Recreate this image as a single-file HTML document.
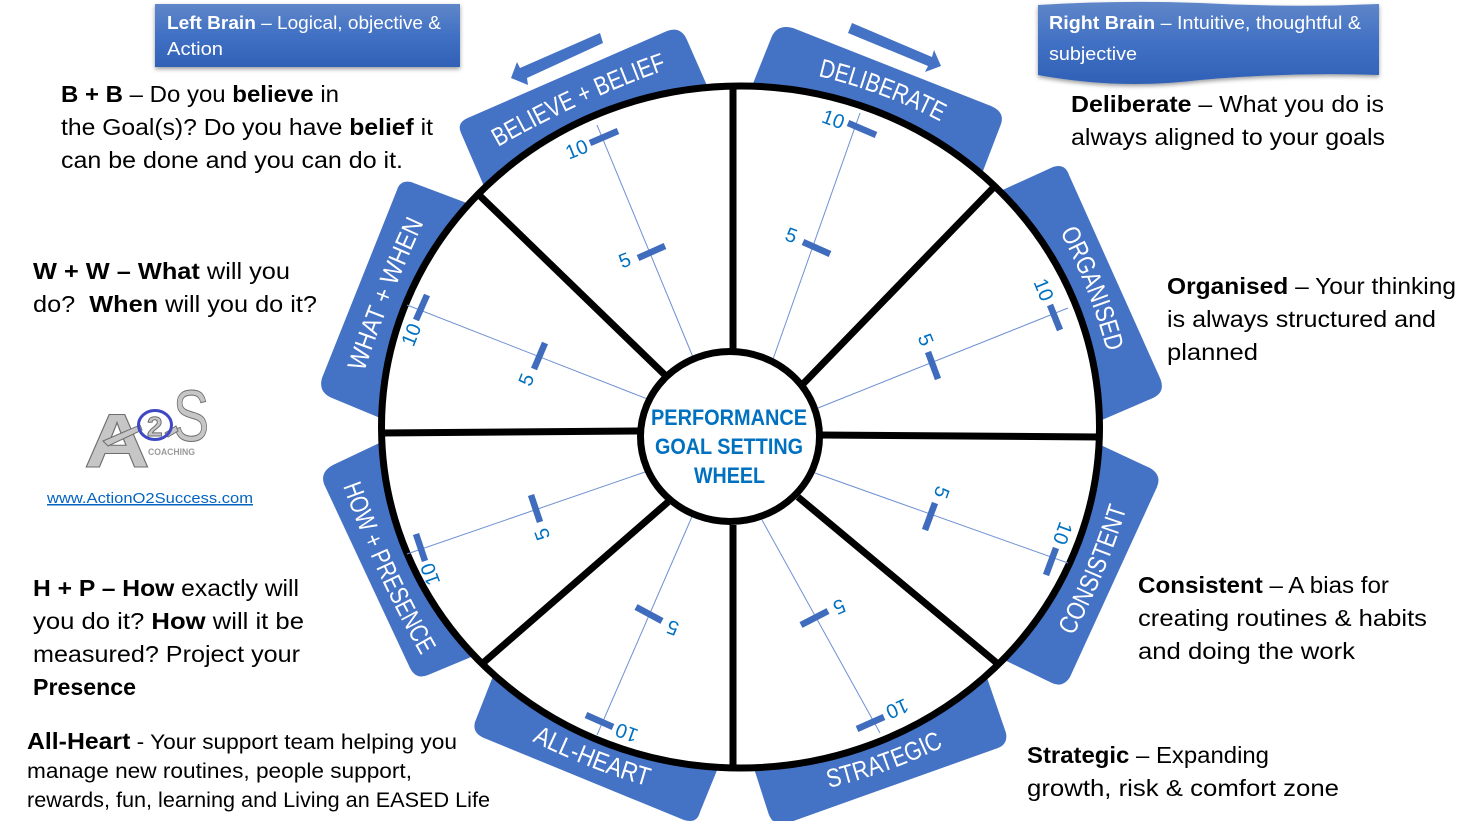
<!DOCTYPE html>
<html><head><meta charset="utf-8"><style>
html,body{margin:0;padding:0;background:#fff;width:1467px;height:821px;overflow:hidden}
svg{display:block;font-family:"Liberation Sans",sans-serif}
.b{font-size:23.5px;fill:#000}.s{font-size:21.5px;fill:#000}
.h{font-size:18.5px;fill:#fff}
.t{font-size:26px;fill:#fff}
.n{font-size:20px;fill:#0070c0}
.c{font-size:22.5px;fill:#0070c0;font-weight:bold}
.w{font-weight:bold}
</style></head><body>
<svg width="1467" height="821" viewBox="0 0 1467 821" xmlns="http://www.w3.org/2000/svg">
<defs>
<linearGradient id="g" x1="0" y1="0" x2="0" y2="1"><stop offset="0" stop-color="#5f86c8"/><stop offset=".5" stop-color="#4170c4"/><stop offset="1" stop-color="#2f61b6"/></linearGradient>
<filter id="sh" x="-5%" y="-10%" width="110%" height="125%"><feDropShadow dx="0" dy="2" stdDeviation="2" flood-color="#000" flood-opacity=".4"/></filter>
<path id="p1" d="M498,147 Q580,100 668,69"/>
<path id="p2" d="M818,76 Q885,92 945,124"/>
<path id="p3" d="M1060,232 Q1090,288 1107,352"/>
<path id="p4" d="M1073,636 Q1106,575 1127,507"/>
<path id="p5" d="M829,788 Q890,773 945,746"/>
<path id="p6" d="M532,741 Q590,770 647,786"/>
<path id="p7" d="M343,486 Q375,575 421,655"/>
<path id="p8" d="M364,372 Q390,295 424,222"/>
</defs>

<!-- tabs -->
<g fill="#4472c4">
<path d="M490,200 L461,133 Q456,122 470,117 L667,31 Q681,26 687,40 L712,97 Z"/>
<path d="M748,96 L772,36 Q778,24 793,28 L991,106 Q1005,112 1001,124 L978,184 Z"/>
<path d="M985,198 L1053,167 Q1065,163 1069,175 L1160,378 Q1166,392 1153,398 L1088,426 Z"/>
<path d="M1090,440 L1150,468 Q1162,475 1157,487 L1070,677 Q1063,688 1052,683 L992,654 Z"/>
<path d="M983,666 L1006,733 Q1008,744 998,748 L785,824 Q772,826 768,812 L750,756 Z"/>
<path d="M497,666 L475,722 Q472,733 484,738 L684,820 Q697,824 700,812 L722,758 Z"/>
<path d="M390,438 L333,465 Q320,472 324,484 L410,668 Q416,680 428,675 L488,650 Z"/>
<path d="M480,208 L411,182 Q400,180 397,190 L322,378 Q318,392 332,398 L390,422 Z"/>
<polygon points="600,33 603,43 527,78 528,85 511,78 517,62 520,68"/>
<polygon points="848,33 852,23 932,57 934,50 941,66 925,72 928,66"/>
</g>

<!-- wheel -->
<ellipse cx="740.5" cy="427" rx="359" ry="341" fill="#fff" stroke="#000" stroke-width="7"/>

<!-- thin lines -->
<g stroke="#6f90d2" stroke-width="1" fill="none">
<line x1="695" y1="362" x2="597" y2="125"/>
<line x1="772" y1="362" x2="860" y2="113"/>
<line x1="818" y1="408" x2="1068" y2="308"/>
<line x1="815" y1="473" x2="1068" y2="563"/>
<line x1="762" y1="520" x2="880" y2="733"/>
<line x1="694" y1="512" x2="597" y2="735"/>
<line x1="645" y1="472" x2="407" y2="554"/>
<line x1="650" y1="400" x2="407" y2="305"/>
</g>
<!-- ticks -->
<g stroke="#3f6cbc" stroke-width="6.5" fill="none">
<line x1="590" y1="143" x2="618" y2="131"/><line x1="638" y1="258" x2="665" y2="246"/>
<line x1="848" y1="123" x2="876" y2="135"/><line x1="803" y1="242" x2="830" y2="254"/>
<line x1="1050" y1="305" x2="1060" y2="330"/><line x1="928" y1="352" x2="938" y2="379"/>
<line x1="1056" y1="548" x2="1046" y2="575"/><line x1="935" y1="503" x2="925" y2="530"/>
<line x1="857" y1="729" x2="884" y2="717"/><line x1="801" y1="625" x2="828" y2="611"/>
<line x1="586" y1="715" x2="613" y2="727"/><line x1="636" y1="607" x2="662" y2="621"/>
<line x1="416" y1="534" x2="425" y2="561"/><line x1="531" y1="495" x2="540" y2="522"/>
<line x1="427" y1="295" x2="416" y2="320"/><line x1="545" y1="343" x2="534" y2="369"/>
</g>
<!-- spokes -->
<g stroke="#000" stroke-width="7" fill="none">
<line x1="733" y1="86" x2="733" y2="352"/><line x1="733" y1="525" x2="733" y2="767"/>
<line x1="380" y1="433" x2="640" y2="431"/><line x1="820" y1="435" x2="1100" y2="437"/>
<line x1="478" y1="194" x2="668" y2="378"/><line x1="995" y1="186" x2="802" y2="385"/>
<line x1="483" y1="663" x2="668" y2="502"/><line x1="998" y1="664" x2="798" y2="497"/>
</g>
<ellipse cx="730" cy="436.5" rx="89.5" ry="85" fill="#fff" stroke="#000" stroke-width="7"/>

<!-- hub text -->
<text class="c" x="651" y="425" textLength="156" lengthAdjust="spacingAndGlyphs">PERFORMANCE</text>
<text class="c" x="655" y="454" textLength="148" lengthAdjust="spacingAndGlyphs">GOAL SETTING</text>
<text class="c" x="694" y="483" textLength="71" lengthAdjust="spacingAndGlyphs">WHEEL</text>

<!-- numbers -->
<g class="n" text-anchor="middle" dominant-baseline="central">
<text transform="translate(577,150) rotate(-22)">10</text><text transform="translate(625,261) rotate(-22)">5</text>
<text transform="translate(833,120) rotate(20)">10</text><text transform="translate(791,236) rotate(20)">5</text>
<text transform="translate(1043,290) rotate(68)">10</text><text transform="translate(925,340) rotate(68)">5</text>
<text transform="translate(1062,533) rotate(110)">10</text><text transform="translate(941,492) rotate(110)">5</text>
<text transform="translate(897,708) rotate(156)">10</text><text transform="translate(839,606) rotate(156)">5</text>
<text transform="translate(627,732) rotate(200)">10</text><text transform="translate(673,627) rotate(200)">5</text>
<text transform="translate(431,574) rotate(250)">10</text><text transform="translate(543,534) rotate(250)">5</text>
<text transform="translate(412,335) rotate(-68)">10</text><text transform="translate(527,380) rotate(-68)">5</text>
</g>

<!-- tab labels -->
<g class="t">
<text><textPath href="#p1" textLength="186" lengthAdjust="spacingAndGlyphs">BELIEVE + BELIEF</textPath></text>
<text><textPath href="#p2" textLength="131" lengthAdjust="spacingAndGlyphs">DELIBERATE</textPath></text>
<text><textPath href="#p3" textLength="129" lengthAdjust="spacingAndGlyphs">ORGANISED</textPath></text>
<text><textPath href="#p4" textLength="139" lengthAdjust="spacingAndGlyphs">CONSISTENT</textPath></text>
<text><textPath href="#p5" textLength="122" lengthAdjust="spacingAndGlyphs">STRATEGIC</textPath></text>
<text><textPath href="#p6" textLength="124" lengthAdjust="spacingAndGlyphs">ALL-HEART</textPath></text>
<text><textPath href="#p7" textLength="187" lengthAdjust="spacingAndGlyphs">HOW + PRESENCE</textPath></text>
<text><textPath href="#p8" textLength="161" lengthAdjust="spacingAndGlyphs">WHAT + WHEN</textPath></text>
</g>

<!-- headers -->
<rect x="155" y="4" width="305" height="63" fill="url(#g)" filter="url(#sh)"/>
<text class="h" x="167" y="29" textLength="274" lengthAdjust="spacingAndGlyphs"><tspan class="w">Left Brain</tspan> – Logical, objective &amp;</text>
<text class="h" x="167" y="55" textLength="56" lengthAdjust="spacingAndGlyphs">Action</text>
<path d="M1038,5 Q1120,0 1200,3 Q1290,8 1379,4 L1379,75 Q1290,72 1200,80 Q1120,90 1038,75 Z" fill="url(#g)" filter="url(#sh)"/>
<text class="h" x="1049" y="29" textLength="312" lengthAdjust="spacingAndGlyphs"><tspan class="w">Right Brain</tspan> – Intuitive, thoughtful &amp;</text>
<text class="h" x="1049" y="60" textLength="88" lengthAdjust="spacingAndGlyphs">subjective</text>

<!-- left copy -->
<text class="b" x="61" y="102" textLength="278" lengthAdjust="spacingAndGlyphs"><tspan class="w">B + B</tspan> – Do you <tspan class="w">believe</tspan> in</text>
<text class="b" x="61" y="135" textLength="372" lengthAdjust="spacingAndGlyphs">the Goal(s)? Do you have <tspan class="w">belief</tspan> it</text>
<text class="b" x="61" y="168" textLength="342" lengthAdjust="spacingAndGlyphs">can be done and you can do it.</text>
<text class="b" x="33" y="279" textLength="257" lengthAdjust="spacingAndGlyphs"><tspan class="w">W + W – What</tspan> will you</text>
<text class="b" x="33" y="312" textLength="284" lengthAdjust="spacingAndGlyphs" xml:space="preserve">do?  <tspan class="w">When</tspan> will you do it?</text>
<text class="b" x="33" y="596" textLength="266" lengthAdjust="spacingAndGlyphs"><tspan class="w">H + P – How</tspan> exactly will</text>
<text class="b" x="33" y="629" textLength="271" lengthAdjust="spacingAndGlyphs">you do it? <tspan class="w">How</tspan> will it be</text>
<text class="b" x="33" y="662" textLength="267" lengthAdjust="spacingAndGlyphs">measured? Project your</text>
<text class="b w" x="33" y="695" textLength="103" lengthAdjust="spacingAndGlyphs">Presence</text>
<text class="s" x="27" y="749" textLength="430" lengthAdjust="spacingAndGlyphs"><tspan class="w" font-size="23.5">All-Heart</tspan> - Your support team helping you</text>
<text class="s" x="27" y="778" textLength="385" lengthAdjust="spacingAndGlyphs">manage new routines, people support,</text>
<text class="s" x="27" y="807" textLength="463" lengthAdjust="spacingAndGlyphs">rewards, fun, learning and Living an EASED Life</text>

<!-- right copy -->
<text class="b" x="1071" y="112" textLength="313" lengthAdjust="spacingAndGlyphs"><tspan class="w">Deliberate</tspan> – What you do is</text>
<text class="b" x="1071" y="145" textLength="314" lengthAdjust="spacingAndGlyphs">always aligned to your goals</text>
<text class="b" x="1167" y="294" textLength="289" lengthAdjust="spacingAndGlyphs"><tspan class="w">Organised</tspan> – Your thinking</text>
<text class="b" x="1167" y="327" textLength="269" lengthAdjust="spacingAndGlyphs">is always structured and</text>
<text class="b" x="1167" y="360" textLength="91" lengthAdjust="spacingAndGlyphs">planned</text>
<text class="b" x="1138" y="593" textLength="251" lengthAdjust="spacingAndGlyphs"><tspan class="w">Consistent</tspan> – A bias for</text>
<text class="b" x="1138" y="626" textLength="289" lengthAdjust="spacingAndGlyphs">creating routines &amp; habits</text>
<text class="b" x="1138" y="659" textLength="217" lengthAdjust="spacingAndGlyphs">and doing the work</text>
<text class="b" x="1027" y="763" textLength="242" lengthAdjust="spacingAndGlyphs"><tspan class="w">Strategic</tspan> – Expanding</text>
<text class="b" x="1027" y="796" textLength="312" lengthAdjust="spacingAndGlyphs">growth, risk &amp; comfort zone</text>

<!-- logo -->
<g fill="#c6c6c6" stroke="#6e6e6e" stroke-width="1">
<text x="84" y="467" font-size="76" font-weight="bold" textLength="66" lengthAdjust="spacingAndGlyphs">A</text>
<text x="173" y="441" font-size="72" textLength="36" lengthAdjust="spacingAndGlyphs">S</text>
<path d="M103,441 L140,425 L142,430 L108,446 Z"/>
<path d="M165,433 L176,426 L178,431 L168,437 Z"/>
<text x="147" y="436" font-size="28" font-weight="bold">2</text>
</g>
<ellipse cx="155" cy="425" rx="16.5" ry="14.5" fill="none" stroke="#3f48c4" stroke-width="3"/>
<text x="148" y="455" font-size="9" font-weight="bold" fill="#9a9a9a" textLength="47" lengthAdjust="spacingAndGlyphs">COACHING</text>
<text x="47" y="503" font-size="15" fill="#0563c1" text-decoration="underline" textLength="206" lengthAdjust="spacingAndGlyphs">www.ActionO2Success.com</text>
</svg>
</body></html>
